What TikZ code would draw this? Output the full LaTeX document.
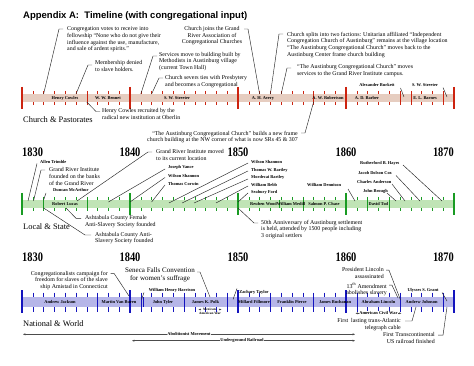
\documentclass[tikz,border=0pt]{standalone}
\usepackage{fontspec}
\setmainfont{Liberation Serif}
\newfontfamily\titlefont{Liberation Sans}
\usetikzlibrary{arrows.meta}
\definecolor{chband}{RGB}{230,205,192}
\definecolor{chtick}{RGB}{205,35,15}
\definecolor{lsband}{RGB}{192,228,182}
\definecolor{lstick}{RGB}{25,155,35}
\definecolor{nwband}{RGB}{182,182,232}
\definecolor{nwtick}{RGB}{20,20,190}
\newcommand\fnote{\fontsize{5.9}{6.7}\selectfont}
\newcommand\fname{\fontsize{4.4}{4.9}\selectfont\bfseries}
\newcommand\fyear{\fontsize{13}{13}\selectfont\bfseries}
\newcommand\ylab[1]{\scalebox{0.8}[1]{#1}}
\begin{document}
\begin{tikzpicture}[x=1pt,y=-1pt,
  note/.style={font=\fnote, inner sep=0pt, align=left, anchor=north west},
  noter/.style={font=\fnote, inner sep=0pt, align=right, anchor=north east},
  notec/.style={font=\fnote, inner sep=0pt, align=center, anchor=north},
  nm/.style={font=\fname, inner sep=0pt},
  yr/.style={font=\fyear, inner sep=0pt},
  conn/.style={line width=0.45pt, black!85},
  sect/.style={font=\fontsize{8.4}{9}\selectfont, inner sep=0pt, anchor=west},
  span/.style={line width=0.5pt, black!70, {Stealth[length=2.5pt,width=2pt]}-{Stealth[length=2.5pt,width=2pt]}},
  spanlab/.style={font=\fname, fill=white, inner sep=0.6pt}]
\useasboundingbox[fill=white] (0,0) rectangle (474,366);

% ---------- title ----------
\node[anchor=west, font=\titlefont\bfseries\fontsize{9.5}{11}\selectfont, inner sep=0pt] (title) at (23,16) {Appendix A:\ \ Timeline (with congregational input)};

% ---------- Church band ----------
\fill[chband] (22,94) rectangle (454,102);
\foreach \i in {1,...,39} {\draw[chtick, line width=0.5pt] ({22+10.8*\i},91) -- ++(0,3) ({22+10.8*\i},102) -- ++(0,3);}
\foreach \x in {86.8,313.6,400,410.8,443.2} {\draw[chtick, line width=0.5pt] (\x,94) -- (\x,102);}
\foreach \i in {0,...,4} {\draw[chtick, line width=1.8pt] ({22+108*\i},87) -- ({22+108*\i},109);}
\node[nm] (hc) at (65,98.3) {Henry Cowles};
\node[nm] (wwb) at (108,98.3) {W. W. Bennet};
\node[nm] (sws) at (177,98.3) {S. W. Streeter};
\node[nm] (aha) at (263,98.3) {A. H. Avery};
\node[nm] (awr) at (328,98.3) {A. W. Robertson};
\node[nm] (adb) at (367,98.3) {A. D. Barber};
\node[nm] (elb) at (425,98.3) {E. L. Barnes};
\node[nm] (abk) at (377,85.5) {Alexander Burkett};
\node[nm] (sws2) at (425,85.5) {S. W. Streeter};
\coordinate (abk1) at (400.5,88); \coordinate (abk2) at (404,97);
\draw[conn] (abk1) -- (abk2);
\coordinate (sw1) at (443,87.5); \coordinate (sw2) at (447,97);
\draw[conn] (sw1) -- (sw2);

\node[sect] (s1) at (23,120) {Church \& Pastorates};

\node[note] (n1) at (67,26.7) {Congregation votes to receive into\\fellowship “None who do not give their\\influence against the use, manufacture,\\and sale of ardent spirits.”};
\coordinate (n1b) at (43.6,94); \coordinate (n1k) at (59,29); \coordinate (n1h) at (63,29);
\draw[conn] (n1b) -- (n1k) -- (n1h);

\node[note] (n2) at (95,60.7) {Membership denied\\to slave holders.};
\coordinate (n2b) at (76,94); \coordinate (n2k) at (88,65); \coordinate (n2h) at (92,65);
\draw[conn] (n2b) -- (n2k) -- (n2h);

\node[note] (n3) at (102,108.7) {Henry Cowles recruited by the\\radical new institution at Oberlin};
\coordinate (n3b) at (86.8,102); \coordinate (n3k) at (96,111.5); \coordinate (n3h) at (100,111.5);
\draw[conn] (n3b) -- (n3k) -- (n3h);

\node[note] (n4) at (159,52) {Services move to building built by\\Methodists in Austinburg village\\(current Town Hall)};
\coordinate (n4b) at (140.8,94); \coordinate (n4k) at (153,56); \coordinate (n4h) at (157,56);
\draw[conn] (n4b) -- (n4k) -- (n4h);

\node[note] (n5) at (165,75.5) {Church severs ties with Presbytery\\and becomes a Congregational};
\coordinate (n5b) at (151.6,94); \coordinate (n5k) at (159,78); \coordinate (n5h) at (163,78);
\draw[conn] (n5b) -- (n5k) -- (n5h);

\node[notec] (n6) at (212,26.2) {Church joins the Grand\\River Association of\\Congregational Churches};
\coordinate (n6b) at (259.6,94); \coordinate (n6k) at (248,29); \coordinate (n6h) at (244,29);
\draw[conn] (n6b) -- (n6k) -- (n6h);

\node[note] (n7) at (287,31.7) {Church splits into two factions: Unitarian affiliated “Independent\\Congregation Church of Austinburg” remains at the village location\\“The Austinburg Congregational Church” moves back to the\\Austinburg Center frame church building};
\coordinate (n7b) at (270.4,94); \coordinate (n7k) at (279,34); \coordinate (n7h) at (283,34);
\draw[conn] (n7b) -- (n7k) -- (n7h);

\node[note] (n8) at (297,64.7) {“The Austinburg Congregational Church” moves\\services to the Grand River Institute campus.};
\coordinate (n8b) at (281.2,94); \coordinate (n8k) at (287,68); \coordinate (n8h) at (291,68);
\draw[conn] (n8b) -- (n8k) -- (n8h);

\node[noter] (n9) at (298,130.7) {“The Austinburg Congregational Church” builds a new frame\\church building at the NW corner of what is now SRs 45 \& 307};
\coordinate (n9b) at (313.6,102); \coordinate (n9k) at (305,133); \coordinate (n9h) at (301,133);
\draw[conn] (n9b) -- (n9k) -- (n9h);

% ---------- Local & State ----------
\node[yr, anchor=west] (y1) at (22,152) {\ylab{1830}};
\node[yr] (y2) at (130,152) {\ylab{1840}};
\node[yr] (y3) at (238,152) {\ylab{1850}};
\node[yr] (y4) at (346,152) {\ylab{1860}};
\node[yr, anchor=east] (y5) at (454,152) {\ylab{1870}};

\fill[lsband] (22,200) rectangle (454,208);
\foreach \i in {1,...,39} {\draw[lstick, line width=0.5pt] ({22+10.8*\i},197) -- ++(0,3) ({22+10.8*\i},208) -- ++(0,3);}
\foreach \x in {43.6,86.8,279,302.8,367.6,389.2} {\draw[lstick, line width=0.5pt] (\x,200) -- (\x,208);}
\foreach \i in {0,...,4} {\draw[lstick, line width=1.8pt] ({22+108*\i},193) -- ({22+108*\i},215);}
\node[nm] (rl) at (65,204.3) {Robert Lucas};
\node[nm] (rw) at (263.5,204.3) {Reuben Wood};
\node[nm] (wm) at (291,204.3) {William Medill};
\node[nm] (spc) at (324,204.3) {Salmon P. Chase};
\node[nm] (dt) at (378.4,204.3) {David Tod};

\node[sect] (s2) at (23,227) {Local \& State};

\node[nm, anchor=west] (at) at (40,162) {Allen Trimble};
\coordinate (at1) at (37,163.5); \coordinate (at2) at (28,201);
\draw[conn] (at1) -- (at2);
\node[note] (gf) at (49,167.7) {Grand River Institute\\founded on the banks\\of the Grand River};
\coordinate (gfb) at (33.5,201); \coordinate (gfk) at (41,170); \coordinate (gfh) at (45,170);
\draw[conn] (gfb) -- (gfk) -- (gfh);
\node[nm, anchor=west] (dm) at (53,190) {Duncan McArthur};
\coordinate (dm1) at (46,193); \coordinate (dm2) at (43.6,200);
\draw[conn] (dm1) -- (dm2);
\node[note] (gm) at (156,149.7) {Grand River Institute moved\\to its current location};
\coordinate (gmb) at (77,201); \coordinate (gmk) at (148,152); \coordinate (gmh) at (152,152);
\draw[conn] (gmb) -- (gmk) -- (gmh);

\node[nm, anchor=west] (jv) at (168,167.5) {Joseph Vance};
\node[nm, anchor=west] (ws1) at (168,176) {Wilson Shannon};
\node[nm, anchor=west] (tc) at (168,183.5) {Thomas Corwin};
\coordinate (jv1) at (165,169); \coordinate (jv2) at (108.4,202);
\coordinate (ws11) at (165,177.5); \coordinate (ws12) at (130,202);
\coordinate (tc1) at (165,185); \coordinate (tc2) at (151.6,202);
\draw[conn] (jv1) -- (jv2); \draw[conn] (ws11) -- (ws12); \draw[conn] (tc1) -- (tc2);

\node[nm, anchor=west] (ws2) at (251,162) {Wilson Shannon};
\node[nm, anchor=west] (twb) at (251,170) {Thomas W. Bartley};
\node[nm, anchor=west] (mb) at (251,177.8) {Mordecai Bartley};
\node[nm, anchor=west] (wb) at (251,185) {William Bebb};
\node[nm, anchor=west] (sf) at (251,192.3) {Seabury Ford};
\coordinate (ws21) at (248,163); \coordinate (ws22) at (169,203);
\coordinate (twb1) at (248,171); \coordinate (twb2) at (182,203);
\coordinate (mb1) at (248,179); \coordinate (mb2) at (194,203);
\coordinate (wb1) at (248,186); \coordinate (wb2) at (216,203);
\coordinate (sf1) at (248,193); \coordinate (sf2) at (238,202);
\draw[conn] (ws21) -- (ws22); \draw[conn] (twb1) -- (twb2); \draw[conn] (mb1) -- (mb2);
\draw[conn] (wb1) -- (wb2); \draw[conn] (sf1) -- (sf2);

\node[nm, anchor=west] (wd) at (307,185) {William Dennison};
\coordinate (wd1) at (348,189); \coordinate (wd2) at (355,201);
\draw[conn] (wd1) -- (wd2);
\node[nm, anchor=west] (rbh) at (360,163.3) {Rutherford B. Hayes};
\node[nm, anchor=west] (jdc) at (358,173.3) {Jacob Dolson Cox};
\node[nm, anchor=west] (ca) at (357,181.7) {Charles Anderson};
\node[nm, anchor=west] (jb) at (363,191) {John Brough};
\coordinate (rbh1) at (403,165); \coordinate (rbh2) at (442,201);
\coordinate (jdc1) at (396,175.5); \coordinate (jdc2) at (420,201);
\coordinate (ca1) at (392,184); \coordinate (ca2) at (405,201);
\coordinate (jb1) at (387,193); \coordinate (jb2) at (396,201);
\draw[conn] (rbh1) -- (rbh2); \draw[conn] (jdc1) -- (jdc2);
\draw[conn] (ca1) -- (ca2); \draw[conn] (jb1) -- (jb2);

\node[note] (af) at (85,215.7) {Ashtabula County Female\\Anti-Slavery Society founded};
\coordinate (afb) at (66,208); \coordinate (afk) at (76,218.3); \coordinate (afh) at (81,218.3);
\draw[conn] (afb) -- (afk) -- (afh);
\node[note] (aa) at (95,232) {Ashtabula County Anti-\\Slavery Society founded};
\coordinate (aab) at (43.6,208); \coordinate (aak) at (85,235); \coordinate (aah) at (91,235);
\draw[conn] (aab) -- (aak) -- (aah);
\node[note] (fa) at (261,219.7) {50th Anniversary of Austinburg settlement\\is held, attended by 1500 people including\\3 original settlers};
\coordinate (fab) at (238,208); \coordinate (fak) at (254,223); \coordinate (fah) at (258,223);
\draw[conn] (fab) -- (fak) -- (fah);

% ---------- National & World ----------
\node[yr, anchor=west] (z1) at (22,257.5) {\ylab{1830}};
\node[yr] (z2) at (130,257.5) {\ylab{1840}};
\node[yr] (z3) at (238,257.5) {\ylab{1850}};
\node[yr] (z4) at (346,257.5) {\ylab{1860}};
\node[yr, anchor=east] (z5) at (454,257.5) {\ylab{1870}};

\fill[nwband] (22,297) rectangle (454,307);
\foreach \i in {1,...,39} {\draw[nwtick, line width=0.5pt] ({22+10.8*\i},292.5) -- ++(0,4.5) ({22+10.8*\i},307) -- ++(0,4.5);}
\foreach \x in {97.6,140.8,143.5,184,227.2,270.4,313.6,356.8,400,443.2} {\draw[nwtick, line width=0.5pt] (\x,297) -- (\x,307);}
\foreach \i in {0,...,4} {\draw[nwtick, line width=1.8pt] ({22+108*\i},290) -- ({22+108*\i},313);}
\node[nm] (ajk) at (60,302.3) {Andrew Jackson};
\node[nm] (mvb) at (119,302.3) {Martin Van Buren};
\node[nm] (jt) at (163,302.3) {John Tyler};
\node[nm] (jkp) at (205.5,302.3) {James K. Polk};
\node[nm] (mf) at (254,302.3) {Millard Fillmore};
\node[nm] (fp) at (292,302.3) {Franklin Pierce};
\node[nm] (jbu) at (335,302.3) {James Buchanan};
\node[nm] (al) at (378.4,302.3) {Abraham Lincoln};
\node[nm] (ajo) at (421.6,302.3) {Andrew Johnson};

\node[sect] (s3) at (23,324) {National \& World};

\node[noter] (am) at (108,270.9) {Congregationalists campaign for\\freedom for slaves of the slave\\ship Amistad in Connecticut};
\coordinate (amh) at (110.5,273.3); \coordinate (amk) at (114,273.3); \coordinate (amb) at (129,296);
\draw[conn] (amh) -- (amk) -- (amb);
\node[notec, font=\fontsize{7}{8.5}\selectfont] (sfc) at (160,267) {Seneca Falls Convention\\for women’s suffrage};
\coordinate (sfh) at (197,272); \coordinate (sfk) at (200,272); \coordinate (sfb) at (210,297);
\draw[conn] (sfh) -- (sfk) -- (sfb);
\node[nm] (whh) at (172,290.7) {William Henry Harrison};
\coordinate (whh1) at (144,292.5); \coordinate (whh2) at (141.5,299.5);
\draw[conn] (whh1) -- (whh2);
\node[nm] (zt) at (254,292.5) {Zachary Taylor};
\coordinate (zt1) at (237,288.5); \coordinate (zt2) at (233,299.5);
\draw[conn] (zt1) -- (zt2);
\node[nm] (usg) at (423,290.7) {Ulysses S. Grant};
\coordinate (usg1) at (442,292.5); \coordinate (usg2) at (447,301);
\draw[conn] (usg1) -- (usg2);
\node[noter] (pl) at (384,267.7) {President Lincoln\\assassinated};
\coordinate (plh) at (386,270.2); \coordinate (plk) at (389,270.2); \coordinate (plb) at (400.5,300);
\draw[conn] (plh) -- (plk) -- (plb);
\node[noter] (ta) at (387,282.7) {13\textsuperscript{th} Amendment\\abolishes slavery};
\coordinate (tah) at (389,285.2); \coordinate (tak) at (392,285.2); \coordinate (tab) at (398,298);
\draw[conn] (tah) -- (tak) -- (tab);

\node[font=\fontsize{3.4}{4}\selectfont\bfseries, inner sep=0pt, align=center, anchor=north] (mx) at (210,307.8) {Mexican-\\American War};
\coordinate (mxl) at (198.5,309.5); \coordinate (mxr) at (221.5,309.5);
\draw[line width=0.4pt, black!70, -{Stealth[length=2pt,width=1.8pt]}] (mx.north west |- mxl) ++(2.5,0) -- (mxl);
\draw[line width=0.4pt, black!70, -{Stealth[length=2pt,width=1.8pt]}] (mx.north east |- mxr) ++(-2.5,0) -- (mxr);

\coordinate (cwl) at (355.5,313.3); \coordinate (cwr) at (401.3,313.3);
\draw[span] (cwl) -- (cwr);
\node[spanlab, inner sep=0.3pt] (cw) at (378.4,313.3) {American Civil War};

\node[noter] (tg) at (401,318.4) {First\ \ lasting trans-Atlantic\\telegraph cable};
\coordinate (tgb) at (416,307); \coordinate (tgk) at (412,321); \coordinate (tgh) at (405,321);
\draw[conn] (tgb) -- (tgk) -- (tgh);
\node[noter] (tr) at (435,332.7) {First Transcontinental\\US railroad finished};
\coordinate (trb) at (447,307); \coordinate (trk) at (443,335.2); \coordinate (trh) at (438,335.2);
\draw[conn] (trb) -- (trk) -- (trh);

\coordinate (ab1) at (23,334.3); \coordinate (ab2) at (355,334.3);
\draw[span] (ab1) -- (ab2);
\node[spanlab] (abl) at (189,334.3) {Abolitionist Movement};
\coordinate (ug1) at (132,340.7); \coordinate (ug2) at (355,340.7);
\draw[span] (ug1) -- (ug2);
\node[spanlab] (ugl) at (242,340.7) {Underground Railroad};
\end{tikzpicture}
\end{document}
